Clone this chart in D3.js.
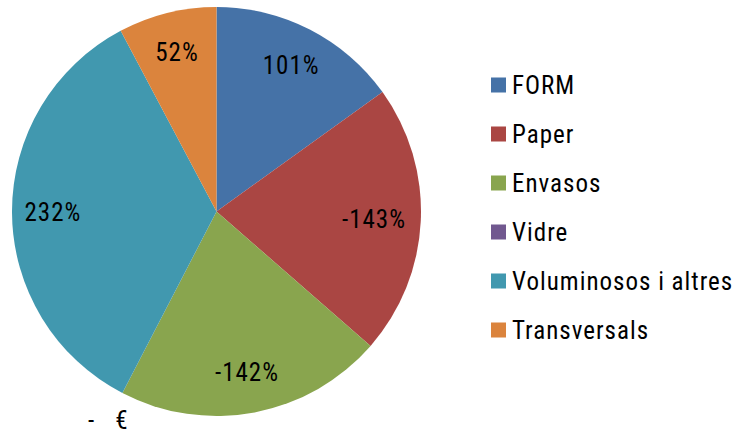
<!DOCTYPE html>
<html>
<head>
<meta charset="utf-8">
<script src="https://cdn.jsdelivr.net/npm/d3@7"></script>
<style>
  html, body { margin: 0; padding: 0; background: #fff; }
  svg text { font-family: 'Liberation Sans Narrow', 'Roboto Condensed', 'DejaVu Sans Condensed', sans-serif; fill: #000; letter-spacing: 1px; }
</style>
</head>
<body>
<div id="chart"></div>
<script>
// categories and values (percent change, signed)
const categories = ['FORM', 'Paper', 'Envasos', 'Vidre', 'Voluminosos i altres', 'Transversals'];
const values = [101, -143, -142, 0, 232, 52];
const colors = ['#4572A7', '#AA4643', '#89A54E', '#71588F', '#4198AF', '#DB843D'];

const width = 736, height = 434;
const cx = 216.5, cy = 211.5, radius = 204.5;

const svg = d3.select('#chart').append('svg')
    .attr('width', width)
    .attr('height', height);

const data = categories.map((c, i) => ({ name: c, value: values[i], color: colors[i] }));

// slices are sized by the magnitude of each value
const pie = d3.pie()
    .sort(null)
    .value(d => Math.abs(d.value));

const arc = d3.arc().innerRadius(0).outerRadius(radius);
const labelArc = d3.arc().innerRadius(radius * 0.8).outerRadius(radius * 0.8);
const zeroArc = d3.arc().innerRadius(radius * 1.15).outerRadius(radius * 1.15);

const g = svg.append('g').attr('transform', `translate(${cx},${cy})`);

const arcs = pie(data);

g.selectAll('path')
    .data(arcs)
    .enter()
    .append('path')
    .attr('d', arc)
    .attr('fill', d => d.data.color);

const fmt = v => v === 0 ? '-   €' : v + '%';

g.selectAll('text.lbl')
    .data(arcs)
    .enter()
    .append('text')
    .attr('class', 'lbl')
    .attr('transform', d => {
        const p = d.data.value === 0 ? zeroArc.centroid(d) : labelArc.centroid(d);
        // keep the right-side label inside the slice
        if (p[0] > radius * 0.75) p[0] = radius * 0.77;
        return `translate(${p[0]},${p[1]})`;
    })
    .attr('text-anchor', 'middle')
    .attr('dy', '0.34em')
    .style('font-size', '25px')
    .style('white-space', 'pre')
    .text(d => fmt(d.data.value));

// legend
const legend = svg.append('g').attr('transform', 'translate(491,85)');
const rowH = 49;

const items = legend.selectAll('g')
    .data(data)
    .enter()
    .append('g')
    .attr('transform', (d, i) => `translate(0,${i * rowH})`);

items.append('rect')
    .attr('x', 0)
    .attr('y', -7.5)
    .attr('width', 15)
    .attr('height', 15)
    .attr('fill', d => d.color);

items.append('text')
    .attr('x', 21)
    .attr('dy', '0.36em')
    .style('font-size', '25px')
    .text(d => d.name);
</script>
</body>
</html>
